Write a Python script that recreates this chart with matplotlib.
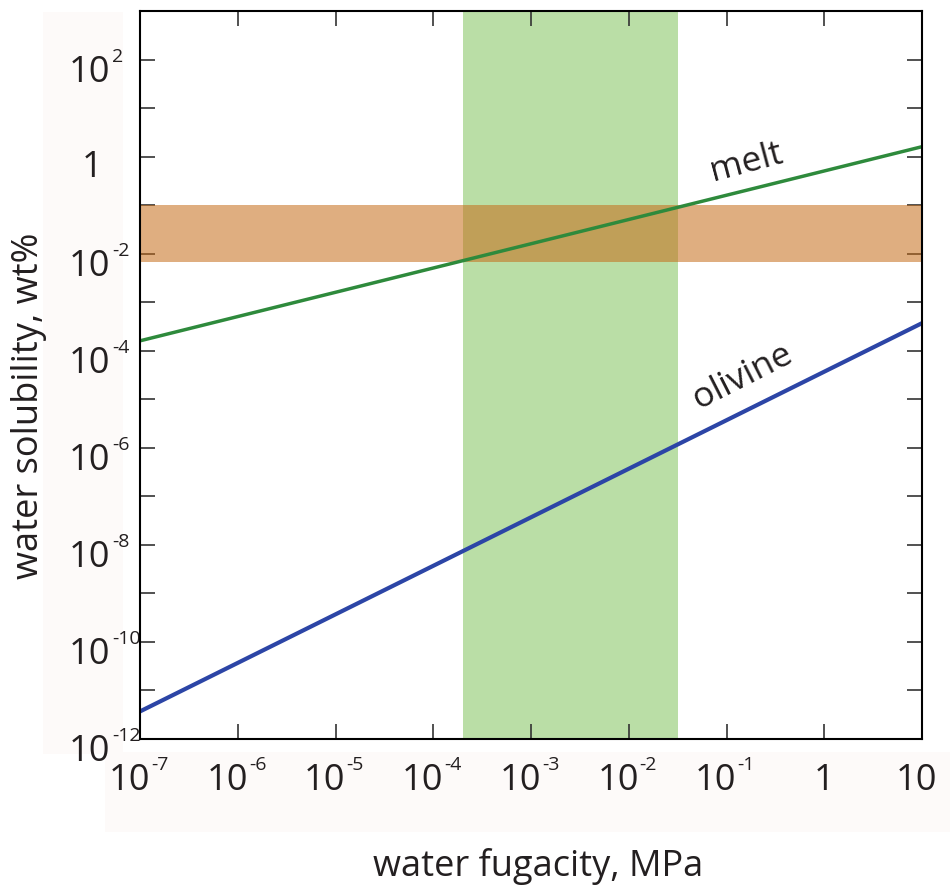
import matplotlib
matplotlib.use('Agg')
import matplotlib.pyplot as plt
import matplotlib.transforms as mtransforms
from matplotlib.patches import Rectangle
from matplotlib.ticker import NullLocator

# ---------------- data ----------------
fugacity = [1e-7, 1e1]                     # MPa
melt_solubility = [1.6e-4, 1.6]            # wt%
olivine_solubility = [3.7e-12, 3.7e-4]     # wt%
fugacity_band = [2.0e-4, 3.2e-2]           # green vertical band
solubility_band = [6.8e-3, 1.0e-1]         # orange horizontal band
x_tick_exponents = [-7, -6, -5, -4, -3, -2, -1, 0, 1]
y_tick_exponents = [-12, -11, -10, -9, -8, -7, -6, -5, -4, -3, -2, -1, 0, 1, 2, 3]
y_label_exponents = [-12, -10, -8, -6, -4, -2, 0, 2]
line_labels = ['melt', 'olivine']

FONT = 'Open Sans'
TXT = '#231f20'

fig = plt.figure(figsize=(9.53, 8.87), dpi=100)
W, H = 953, 887

# faint pinkish backgrounds behind tick labels
fig.patches.append(Rectangle((43 / W, 1 - 755 / H), 80 / W, 742 / H,
                             transform=fig.transFigure, facecolor='#fdfaf9',
                             edgecolor='none', zorder=-5))
fig.patches.append(Rectangle((105 / W, 1 - 833 / H), 845 / W, 80 / H,
                             transform=fig.transFigure, facecolor='#fdfaf9',
                             edgecolor='none', zorder=-5))

ax = fig.add_axes([140 / W, 1 - 740 / H, 782 / W, 728 / H])
ax.set_xscale('log')
ax.set_yscale('log')
ax.set_xlim(fugacity[0], fugacity[1])
ax.set_ylim(1e-12, 1e3)

ax.axvspan(fugacity_band[0], fugacity_band[1], color='#badea6', lw=0, zorder=1)
ax.axhspan(solubility_band[0], solubility_band[1], color='#c56c18', alpha=0.55,
           lw=0, zorder=2)

ax.plot(fugacity, melt_solubility, color='#2e8a3c', lw=2.5, zorder=3,
        solid_capstyle='butt')
ax.plot(fugacity, olivine_solubility, color='#2c45a6', lw=3.0, zorder=3,
        solid_capstyle='butt')

ax.text(0.16, 0.80, line_labels[0], rotation=15, ha='center', va='center',
        fontsize=25.5, family=FONT, color=TXT, rotation_mode='anchor', zorder=4)
ax.text(0.145, 3.0e-5, line_labels[1], rotation=27, ha='center', va='center',
        fontsize=25.5, family=FONT, color=TXT, rotation_mode='anchor', zorder=4)

# ticks
ax.set_xticks([10.0 ** e for e in x_tick_exponents])
ax.set_yticks([10.0 ** e for e in y_tick_exponents])
ax.xaxis.set_minor_locator(NullLocator())
ax.yaxis.set_minor_locator(NullLocator())
ax.tick_params(which='major', direction='in', length=10.8, width=1.2,
               color='#333333', top=True, right=True,
               labelbottom=False, labelleft=False)
for s in ax.spines.values():
    s.set_linewidth(1.5)
    s.set_color('black')
    s.set_zorder(5)

BASE = 26
SUP = 14

def off(trans, dx, dy):
    return mtransforms.offset_copy(trans, fig=fig, x=dx, y=dy, units='dots')

# x tick labels
tx = ax.get_xaxis_transform()
for e in x_tick_exponents:
    v = 10.0 ** e
    if e == 0:
        ax.text(v, 0, '1', transform=off(tx, 0, -50), ha='center', va='baseline',
                fontsize=BASE, family=FONT, color=TXT, clip_on=False)
    elif e == 1:
        ax.text(v, 0, '10', transform=off(tx, -6, -50), ha='center', va='baseline',
                fontsize=BASE, family=FONT, color=TXT, clip_on=False)
    else:
        ax.text(v, 0, '10', transform=off(tx, 10, -50), ha='right', va='baseline',
                fontsize=BASE, family=FONT, color=TXT, clip_on=False)
        ax.text(v, 0, str(e), transform=off(tx, 11, -30), ha='left', va='baseline',
                fontsize=SUP, family=FONT, color=TXT, clip_on=False)

# y tick labels
ty = ax.get_yaxis_transform()
for e in y_label_exponents:
    v = 10.0 ** e
    if e == 0:
        ax.text(0, v, '1', transform=off(ty, -38, -19), ha='right', va='baseline',
                fontsize=BASE, family=FONT, color=TXT, clip_on=False)
    else:
        ax.text(0, v, '10', transform=off(ty, -30, -21), ha='right', va='baseline',
                fontsize=BASE, family=FONT, color=TXT, clip_on=False)
        ax.text(0, v, str(e), transform=off(ty, -28, -1), ha='left', va='baseline',
                fontsize=SUP, family=FONT, color=TXT, clip_on=False)

# axis labels
fig.text(538 / W, 1 - 876 / H, 'water fugacity, MPa', ha='center', va='baseline',
         fontsize=26, family=FONT, color=TXT)
fig.text(29 / W, 1 - 406 / H, 'water solubility, wt%', ha='center', va='center',
         rotation=90, fontsize=26, family=FONT, color=TXT)

fig.savefig('out.png', dpi=100)
